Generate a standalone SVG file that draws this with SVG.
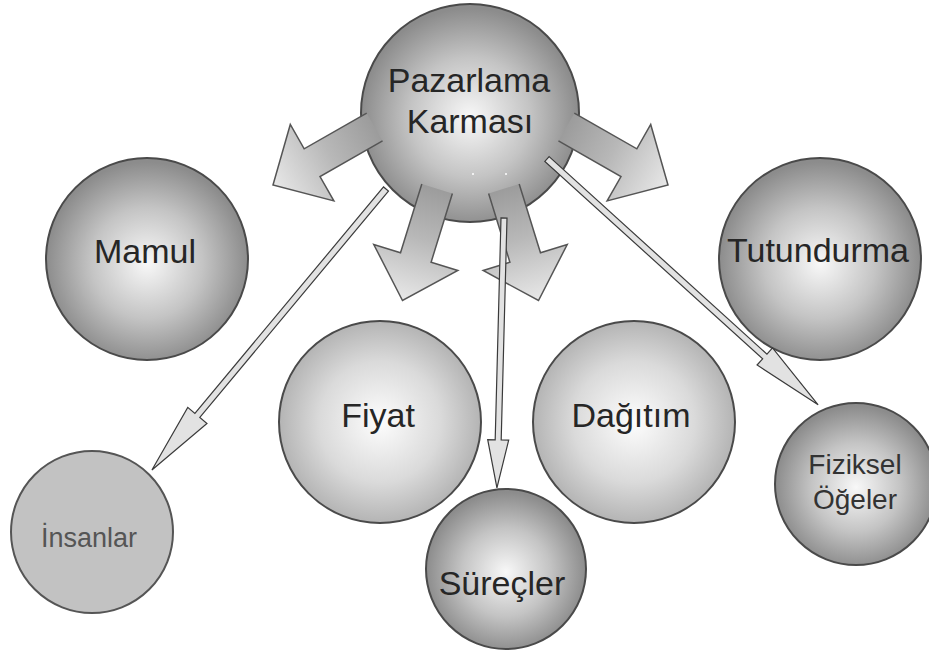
<svg xmlns="http://www.w3.org/2000/svg" width="929" height="653" viewBox="0 0 929 653">
  <defs>
    <radialGradient id="gDark" cx="0.5" cy="0.52" r="0.5">
      <stop offset="0" stop-color="#f8f8f8"/>
      <stop offset="0.55" stop-color="#c4c4c4"/>
      <stop offset="1" stop-color="#8c8c8c"/>
    </radialGradient>
    <radialGradient id="gLight" cx="0.5" cy="0.5" r="0.5">
      <stop offset="0" stop-color="#fdfdfd"/>
      <stop offset="0.6" stop-color="#dadada"/>
      <stop offset="1" stop-color="#b4b4b4"/>
    </radialGradient>
    <linearGradient id="gArrow" x1="0" y1="0" x2="1" y2="0">
      <stop offset="0" stop-color="#9c9c9c"/>
      <stop offset="0.45" stop-color="#b8b8b8"/>
      <stop offset="1" stop-color="#e8e8e8"/>
    </linearGradient>
    <style>
      .node-dark { fill: url(#gDark); stroke: #4a4a4a; stroke-width: 2; }
      .node-light { fill: url(#gLight); stroke: #4a4a4a; stroke-width: 2; }
      .node-flat { fill: #c2c2c2; stroke: #555555; stroke-width: 2; }
      .lbl { font-family: "Liberation Sans", Arial, sans-serif; font-size: 34px; fill: #262626; text-anchor: middle; }
      .lbl-sm { font-family: "Liberation Sans", Arial, sans-serif; font-size: 28px; fill: #333333; text-anchor: middle; }
      .lbl-gray { font-family: "Liberation Sans", Arial, sans-serif; font-size: 27px; fill: #555555; text-anchor: middle; }
      .fat { fill: url(#gArrow); stroke: #555555; stroke-width: 1.5; stroke-linejoin: miter; }
      .thin { fill: #e2e2e2; stroke: #3a3a3a; stroke-width: 1.2; stroke-linejoin: miter; }
    </style>
  </defs>

  <g id="node-mamul">
    <circle class="node-dark" cx="147" cy="259" r="101"/>
    <text class="lbl" x="145" y="263">Mamul</text>
  </g>
  <g id="node-tutundurma">
    <circle class="node-dark" cx="820" cy="259" r="101"/>
    <text class="lbl" x="818" y="262">Tutundurma</text>
  </g>
  <g id="node-fiyat">
    <circle class="node-light" cx="380" cy="422" r="101"/>
    <text class="lbl" x="378" y="427">Fiyat</text>
  </g>
  <g id="node-dagitim">
    <circle class="node-light" cx="634" cy="422" r="101"/>
    <text class="lbl" x="631" y="427">Dağıtım</text>
  </g>
  <g id="node-insanlar">
    <circle class="node-flat" cx="92" cy="532" r="81"/>
    <text class="lbl-gray" x="89" y="547">İnsanlar</text>
  </g>
  <g id="node-surecler">
    <circle class="node-dark" cx="506" cy="569" r="80"/>
    <text class="lbl" x="502" y="595">Süreçler</text>
  </g>
  <g id="node-fiziksel">
    <circle class="node-dark" cx="856" cy="484" r="81"/>
    <text class="lbl-sm" x="855" y="474">Fiziksel</text>
    <text class="lbl-sm" x="855" y="509">Öğeler</text>
  </g>
  <g id="node-pazarlama">
    <circle class="node-dark" cx="470" cy="113" r="109"/>
    <text class="lbl" x="469" y="92">Pazarlama</text>
    <text class="lbl" x="470" y="133">Karması</text>
    <circle cx="473" cy="174" r="1" fill="#ffffff"/>
    <circle cx="506" cy="174" r="1" fill="#ffffff"/>
  </g>

  <g id="connectors">
    <path class="fat" transform="translate(273,185) rotate(150.3)" d="M -117,-16 L -45,-16 L -45,-44 L 0,0 L -45,44 L -45,16 L -117,16"/>
    <path class="fat" transform="translate(668,185) rotate(29.7)" d="M -117,-16 L -45,-16 L -45,-44 L 0,0 L -45,44 L -45,16 L -117,16"/>
    <path class="fat" transform="translate(402.5,300.5) rotate(107.2)" d="M -117,-16 L -45,-16 L -45,-44 L 0,0 L -45,44 L -45,16 L -117,16"/>
    <path class="fat" transform="translate(538.5,300.5) rotate(72.8)" d="M -117,-16 L -45,-16 L -45,-44 L 0,0 L -45,44 L -45,16 L -117,16"/>

    <path class="thin" transform="translate(386,189) rotate(129.8)" d="M 0,-3.2 L 294.7,-3.2 L 294.7,-12.5 L 365.7,0 L 294.7,12.5 L 294.7,3.2 L 0,3.2 Z"/>
    <path class="thin" transform="translate(504,218) rotate(91.5)" d="M 0,-3 L 222,-3 L 222,-10.5 L 270,0 L 222,10.5 L 222,3 L 0,3 Z"/>
    <path class="thin" transform="translate(547,159) rotate(42.2)" d="M 0,-3.2 L 294,-3.2 L 294,-11.5 L 366,0 L 294,11.5 L 294,3.2 L 0,3.2 Z"/>
  </g>
</svg>
